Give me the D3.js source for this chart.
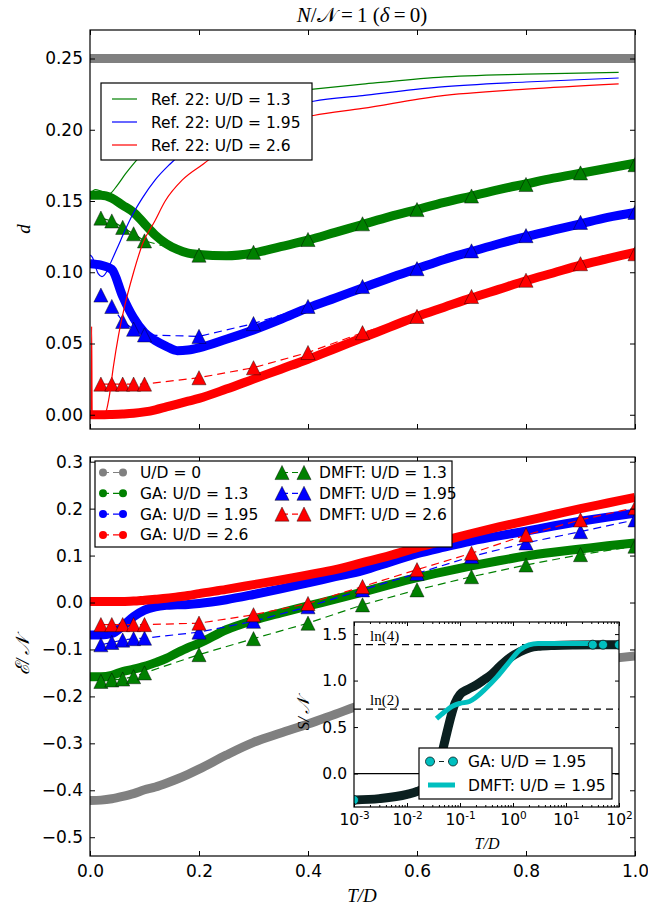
<!DOCTYPE html>
<html>
<head>
<meta charset="utf-8">
<title>N/N=1 (delta=0)</title>
<script src="https://d3js.org/d3.v7.min.js"></script>
<style>
body { margin: 0; background: #fff; }
svg text { font-family: "DejaVu Sans", sans-serif; }
svg text.math { font-family: "Liberation Serif", "DejaVu Serif", serif; font-style: italic; }
svg text.serif { font-family: "Liberation Serif", "DejaVu Serif", serif; }
</style>
</head>
<body>
<svg id="fig" width="648" height="911"></svg>
<script>
// ---------------- data ----------------
// GA curves (dense markers -> thick bands), T/D grid
var tGA = [0,0.02,0.04,0.06,0.08,0.1,0.12,0.14,0.16,0.18,0.2,0.25,0.3,0.35,0.4,0.45,0.5,0.55,0.6,0.65,0.7,0.75,0.8,0.85,0.9,0.95,1.0];

// top panel: d
var dGA0   = [0.25,0.25,0.25,0.25,0.25,0.25,0.25,0.25,0.25,0.25,0.25,0.25,0.25,0.25,0.25,0.25,0.25,0.25,0.25,0.25,0.25,0.25,0.25,0.25,0.25,0.25,0.25];
var dGA13  = [0.154,0.154,0.152,0.147,0.142,0.134,0.126,0.120,0.116,0.1135,0.1125,0.1115,0.1135,0.118,0.1225,0.128,0.1335,0.139,0.144,0.149,0.1535,0.158,0.162,0.166,0.1695,0.173,0.1765];
var dGA195 = [0.106,0.105,0.102,0.083,0.068,0.0576,0.052,0.048,0.045,0.0455,0.047,0.053,0.0595,0.067,0.075,0.082,0.089,0.096,0.1025,0.109,0.1145,0.12,0.125,0.1295,0.134,0.1385,0.142];
var dGA26  = [0.0,0.0,0.0002,0.0005,0.001,0.002,0.0035,0.0055,0.0075,0.0095,0.0115,0.018,0.025,0.032,0.039,0.0465,0.054,0.0615,0.069,0.0755,0.082,0.088,0.094,0.0995,0.105,0.1095,0.114];

// DMFT points
var tDmft = [0.02,0.04,0.06,0.08,0.1,0.2,0.3,0.4,0.5,0.6,0.7,0.8,0.9,1.0];
var dDmft13  = [0.138,0.136,0.1315,0.127,0.122,0.112,0.114,0.123,0.134,0.144,0.1535,0.1616,0.1697,0.1755];
var dDmft195 = [0.084,0.076,0.0655,0.060,0.056,0.055,0.064,0.076,0.090,0.1025,0.115,0.1257,0.135,0.142];
var dDmft26  = [0.0215,0.0215,0.0215,0.0215,0.0215,0.026,0.033,0.0437,0.0576,0.069,0.083,0.0944,0.106,0.113];

// Ref. 22 thin lines
var tRef13 = [0,0.01,0.02,0.035,0.05,0.065,0.084,0.1,0.125,0.15,0.2,0.25,0.3,0.35,0.41,0.5,0.64,0.8,0.97];
var dRef13 = [0.155,0.158,0.157,0.155,0.161,0.169,0.178,0.185,0.195,0.203,0.213,0.219,0.223,0.226,0.2285,0.232,0.2368,0.239,0.2403];
var tRef195 = [0.0,0.005,0.01,0.015,0.022,0.03,0.036,0.05,0.065,0.079,0.096,0.12,0.147,0.2,0.25,0.3,0.35,0.41,0.5,0.64,0.8,0.97];
var dRef195 = [0.112,0.11,0.104,0.099,0.097,0.1,0.105,0.117,0.13,0.141,0.152,0.165,0.176,0.193,0.203,0.210,0.215,0.220,0.224,0.2299,0.2335,0.2363];
var tRef26 = [0.002,0.003,0.004,0.008,0.02,0.028,0.035,0.043,0.052,0.062,0.08,0.0965,0.119,0.138,0.17,0.208,0.25,0.3,0.35,0.41,0.5,0.64,0.8,0.97];
var dRef26 = [0.0,0.062,0.0,0.0,0.0,0.001,0.012,0.034,0.055,0.0736,0.1,0.12,0.136,0.15,0.165,0.176,0.188,0.198,0.205,0.210,0.215,0.2236,0.2285,0.2322];

// bottom panel: E/N
var eGA0   = [-0.422,-0.421,-0.418,-0.413,-0.407,-0.399,-0.393,-0.385,-0.376,-0.366,-0.355,-0.325,-0.298,-0.278,-0.259,-0.238,-0.217,-0.2,-0.185,-0.172,-0.16,-0.15,-0.142,-0.134,-0.127,-0.12,-0.114];
var eGA13  = [-0.158,-0.158,-0.155,-0.147,-0.142,-0.136,-0.128,-0.119,-0.107,-0.096,-0.087,-0.058,-0.038,-0.022,-0.007,0.007,0.022,0.038,0.053,0.066,0.078,0.089,0.099,0.107,0.114,0.121,0.127];
var eGA195 = [-0.069,-0.069,-0.066,-0.05,-0.03,-0.016,-0.009,-0.006,-0.005,-0.004,-0.002,0.006,0.017,0.029,0.042,0.055,0.068,0.086,0.104,0.118,0.131,0.142,0.152,0.163,0.173,0.182,0.19];
var eGA26  = [0.002,0.002,0.002,0.002,0.003,0.005,0.007,0.009,0.012,0.015,0.019,0.028,0.038,0.048,0.059,0.07,0.085,0.1,0.117,0.132,0.147,0.161,0.174,0.187,0.2,0.212,0.224];
var eDmft13  = [-0.168,-0.165,-0.163,-0.158,-0.15,-0.111,-0.077,-0.044,-0.005,0.027,0.055,0.08,0.102,0.12];
var eDmft195 = [-0.09,-0.085,-0.08,-0.077,-0.076,-0.063,-0.04,-0.009,0.027,0.062,0.098,0.127,0.151,0.176];
var eDmft26  = [-0.047,-0.047,-0.047,-0.047,-0.047,-0.044,-0.026,-0.002,0.034,0.07,0.105,0.144,0.176,0.202];

// inset: S/N vs T/D (log)
var tSGA = [0.001,0.003,0.01,0.016,0.023,0.032,0.042,0.056,0.071,0.081,0.1,0.135,0.2,0.27,0.4,0.56,0.8,1.35,2.1,3.2,6,15,40,100];
var sGA  = [-0.285,-0.27,-0.225,-0.19,-0.14,-0.04,0.14,0.43,0.66,0.76,0.85,0.9,0.95,1.0,1.07,1.15,1.23,1.31,1.355,1.37,1.378,1.383,1.385,1.386];
var tSGAmk = [0.001,32,50,100];
var sGAmk  = [-0.285,1.386,1.386,1.386];
var tSDmft = [0.036,0.05,0.075,0.1,0.15,0.2,0.3,0.5,0.8,1.35,2,3,5,10,20,32];
var sDmft  = [0.59,0.66,0.73,0.755,0.775,0.82,0.91,1.04,1.18,1.33,1.385,1.4,1.4,1.4,1.4,1.4];
var lnLevels = [1.3863, 0.6931];
var lnLabels = ["ln(4)", "ln(2)"];

// ticks
var xTicks = [0,0.2,0.4,0.6,0.8,1.0];
var dTicks = [0,0.05,0.1,0.15,0.2,0.25];
var eTicks = [-0.5,-0.4,-0.3,-0.2,-0.1,0,0.1,0.2,0.3];
var sTicks = [0,0.5,1.0,1.5];
var insetDecades = [1e-3,1e-2,1e-1,1e0,1e1,1e2];

var GREEN = "#008000", BLUE = "#0000ff", RED = "#ff0000", GRAY = "#808080", CYAN = "#00bfbf";

// ---------------- drawing ----------------
var svg = d3.select("#fig");

var x = d3.scaleLinear().domain([0, 1]).range([90, 635]);
var yTop = d3.scaleLinear().domain([-0.01, 0.27]).range([429, 30]);
var yBot = d3.scaleLinear().domain([-0.54, 0.31]).range([856, 457]);
var xs = d3.scaleLog().domain([1e-3, 1e2]).range([354, 619]);
var ys = d3.scaleLinear().domain([-0.36, 1.63]).range([807, 622]);

var defs = svg.append("defs");
function clip(id, xsc, ysc) {
  defs.append("clipPath").attr("id", id).append("rect")
    .attr("x", xsc.range()[0]).attr("y", ysc.range()[1])
    .attr("width", xsc.range()[1] - xsc.range()[0])
    .attr("height", ysc.range()[0] - ysc.range()[1]);
}
clip("cTop", x, yTop);
clip("cBot", x, yBot);
clip("cIn", xs, ys);

// matplotlib-like '^' marker, centred on its bounding box
var triType = { draw: function(ctx, size) {
  var h = Math.sqrt(size);
  ctx.moveTo(0, -h / 2); ctx.lineTo(h / 2, h / 2); ctx.lineTo(-h / 2, h / 2); ctx.closePath();
}};
var tri = d3.symbol().type(triType).size(200);

function zip(a, b) { return a.map(function(v, i) { return [v, b[i]]; }); }

function band(g, xsc, ysc, tt, vv, color, w) {
  g.append("path").datum(zip(tt, vv))
    .attr("fill", "none").attr("stroke", color).attr("stroke-width", w)
    .attr("d", d3.line().x(function(d) { return xsc(d[0]); }).y(function(d) { return ysc(d[1]); }).curve(d3.curveMonotoneX));
}

function dmft(g, ysc, vv, color) {
  var pts = zip(tDmft, vv);
  g.append("path").datum(pts)
    .attr("fill", "none").attr("stroke", color).attr("stroke-width", 1.2)
    .attr("stroke-dasharray", "8,5")
    .attr("d", d3.line().x(function(d) { return x(d[0]); }).y(function(d) { return ysc(d[1]); }));
  g.selectAll(null).data(pts).enter().append("path")
    .attr("transform", function(d) { return "translate(" + x(d[0]) + "," + ysc(d[1]) + ")"; })
    .attr("d", tri).attr("fill", color).attr("stroke", "#000").attr("stroke-opacity", 0.6).attr("stroke-width", 0.7);
}

function axes(xsc, ysc, o) {
  var g = svg.append("g");
  var xr = xsc.range(), yr = ysc.range();
  function style(sel, fs) {
    sel.select(".domain").remove();
    sel.selectAll("text").attr("font-size", fs);
    sel.selectAll("line").attr("stroke-width", 1);
  }
  g.append("g").attr("class", "xb").attr("transform", "translate(0," + yr[0] + ")")
    .call(d3.axisBottom(xsc).tickValues(o.xt).tickSize(-o.len).tickPadding(o.xpad || 8).tickFormat(o.xf || ""))
    .call(style, o.fs);
  g.append("g").attr("transform", "translate(0," + yr[1] + ")")
    .call(d3.axisTop(xsc).tickValues(o.xt).tickSize(-o.len).tickFormat(""))
    .call(style, o.fs);
  g.append("g").attr("transform", "translate(" + xr[0] + ",0)")
    .call(d3.axisLeft(ysc).tickValues(o.yt).tickSize(-o.len).tickPadding(o.ypad || 7).tickFormat(o.yf))
    .call(style, o.fs);
  g.append("g").attr("transform", "translate(" + xr[1] + ",0)")
    .call(d3.axisRight(ysc).tickValues(o.yt).tickSize(-o.len).tickFormat(""))
    .call(style, o.fs);
  if (o.xminor) {
    g.append("g").attr("transform", "translate(0," + yr[0] + ")")
      .call(d3.axisBottom(xsc).tickValues(o.xminor).tickSize(-2).tickFormat("")).call(style, o.fs);
    g.append("g").attr("transform", "translate(0," + yr[1] + ")")
      .call(d3.axisTop(xsc).tickValues(o.xminor).tickSize(-2).tickFormat("")).call(style, o.fs);
  }
  g.append("rect").attr("x", xr[0]).attr("y", yr[1])
    .attr("width", xr[1] - xr[0]).attr("height", yr[0] - yr[1])
    .attr("fill", "none").attr("stroke", "#000").attr("stroke-width", 1.2);
  return g;
}

// ---- top panel ----
var gT = svg.append("g").attr("clip-path", "url(#cTop)");
band(gT, x, yTop, tGA, dGA0, GRAY, 9);
band(gT, x, yTop, tGA, dGA13, GREEN, 9);
band(gT, x, yTop, tGA, dGA195, BLUE, 9);
band(gT, x, yTop, tGA, dGA26, RED, 9);
dmft(gT, yTop, dDmft13, GREEN);
dmft(gT, yTop, dDmft195, BLUE);
dmft(gT, yTop, dDmft26, RED);
band(gT, x, yTop, tRef13, dRef13, GREEN, 1.2);
band(gT, x, yTop, tRef195, dRef195, BLUE, 1.2);
band(gT, x, yTop, tRef26, dRef26, RED, 1.2);

axes(x, yTop, { xt: xTicks, yt: dTicks, len: 5, fs: 17, yf: d3.format(".2f") });

// top legend
var legT = svg.append("g");
legT.append("rect").attr("x", 101).attr("y", 83).attr("width", 211).attr("height", 77)
  .attr("fill", "#fff").attr("stroke", "#000").attr("stroke-width", 1.2);
[["Ref. 22: U/D = 1.3", GREEN], ["Ref. 22: U/D = 1.95", BLUE], ["Ref. 22: U/D = 2.6", RED]].forEach(function(e, i) {
  var yy = 99 + i * 23;
  legT.append("line").attr("x1", 112).attr("x2", 137).attr("y1", yy).attr("y2", yy)
    .attr("stroke", e[1]).attr("stroke-width", 1.2);
  legT.append("text").attr("x", 151).attr("y", yy).attr("dy", "0.36em")
    .attr("font-size", 15.5).text(e[0]);
});

// ---- bottom panel ----
var gB = svg.append("g").attr("clip-path", "url(#cBot)");
band(gB, x, yBot, tGA, eGA0, GRAY, 9);
band(gB, x, yBot, tGA, eGA13, GREEN, 9);
band(gB, x, yBot, tGA, eGA195, BLUE, 9);
band(gB, x, yBot, tGA, eGA26, RED, 9);
dmft(gB, yBot, eDmft13, GREEN);
dmft(gB, yBot, eDmft195, BLUE);
dmft(gB, yBot, eDmft26, RED);

axes(x, yBot, { xt: xTicks, yt: eTicks, len: 5, fs: 17, xf: d3.format(".1f"), yf: d3.format(".1f"), xpad: 9 });

// bottom legend
var legB = svg.append("g");
legB.append("rect").attr("x", 95).attr("y", 461).attr("width", 357).attr("height", 86)
  .attr("fill", "#fff").attr("stroke", "#000").attr("stroke-width", 1.2);
var gaEntries = [["U/D = 0", GRAY], ["GA: U/D = 1.3", GREEN], ["GA: U/D = 1.95", BLUE], ["GA: U/D = 2.6", RED]];
var dmEntries = [["DMFT: U/D = 1.3", GREEN], ["DMFT: U/D = 1.95", BLUE], ["DMFT: U/D = 2.6", RED]];
gaEntries.forEach(function(e, i) {
  var yy = 472.5 + i * 20.8;
  legB.append("line").attr("x1", 103).attr("x2", 123).attr("y1", yy).attr("y2", yy)
    .attr("stroke", e[1]).attr("stroke-width", 1.2).attr("stroke-dasharray", "6,4");
  [103, 123].forEach(function(cx) {
    legB.append("circle").attr("cx", cx).attr("cy", yy).attr("r", 4).attr("fill", e[1]);
  });
  legB.append("text").attr("x", 140).attr("y", yy).attr("dy", "0.36em").attr("font-size", 15.5).text(e[0]);
});
dmEntries.forEach(function(e, i) {
  var yy = 472.5 + i * 20.8;
  legB.append("line").attr("x1", 282).attr("x2", 304).attr("y1", yy).attr("y2", yy)
    .attr("stroke", e[1]).attr("stroke-width", 1.2).attr("stroke-dasharray", "6,4");
  [282, 304].forEach(function(cx) {
    legB.append("path").attr("transform", "translate(" + cx + "," + yy + ")").attr("d", tri)
      .attr("fill", e[1]).attr("stroke", "#000").attr("stroke-opacity", 0.6).attr("stroke-width", 0.7);
  });
  legB.append("text").attr("x", 319).attr("y", yy).attr("dy", "0.36em").attr("font-size", 15.5).text(e[0]);
});

// ---- inset ----
svg.append("rect").attr("x", 354).attr("y", 622).attr("width", 265).attr("height", 185).attr("fill", "#fff");
var gI = svg.append("g").attr("clip-path", "url(#cIn)");
gI.append("line").attr("x1", 354).attr("x2", 619).attr("y1", ys(0)).attr("y2", ys(0))
  .attr("stroke", "#000").attr("stroke-width", 1.2);
lnLevels.forEach(function(v) {
  gI.append("line").attr("x1", 354).attr("x2", 619).attr("y1", ys(v)).attr("y2", ys(v))
    .attr("stroke", "#000").attr("stroke-width", 1.3).attr("stroke-dasharray", "7,5");
});
band(gI, xs, ys, tSGA, sGA, "#0b2020", 9);
band(gI, xs, ys, tSDmft, sDmft, CYAN, 5);
gI.selectAll(null).data(zip(tSGAmk, sGAmk)).enter().append("circle")
  .attr("cx", function(d) { return xs(d[0]); }).attr("cy", function(d) { return ys(d[1]); })
  .attr("r", 4.5).attr("fill", CYAN).attr("stroke", "#0b2020").attr("stroke-width", 0.8);
lnLabels.forEach(function(s, i) {
  svg.append("text").attr("class", "serif").attr("x", 370).attr("y", ys(lnLevels[i]) - 4)
    .attr("font-size", 15).text(s);
});

var minors = [];
insetDecades.slice(0, -1).forEach(function(dd) { [2,3,4,5,6,7,8,9].forEach(function(m) { minors.push(dd * m); }); });
var axI = axes(xs, ys, { xt: insetDecades, yt: sTicks, len: 4, fs: 15.5, xf: function(d) { return d; }, yf: d3.format(".1f"), xpad: 7, xminor: minors });
axI.select(".xb").selectAll(".tick text")
  .each(function(d) {
    var t = d3.select(this);
    t.text(null);
    t.append("tspan").text("10");
    t.append("tspan").attr("dy", "-0.55em").attr("font-size", 10.5).text(String(Math.round(Math.log10(d))));
  });

// inset legend
var legI = svg.append("g");
legI.append("rect").attr("x", 419).attr("y", 748).attr("width", 193).attr("height", 51)
  .attr("fill", "#fff").attr("stroke", "#000").attr("stroke-width", 1.2);
legI.append("line").attr("x1", 430).attr("x2", 453).attr("y1", 761.5).attr("y2", 761.5)
  .attr("stroke", "#0b2020").attr("stroke-width", 1.2).attr("stroke-dasharray", "5,4");
[430, 453].forEach(function(cx) {
  legI.append("circle").attr("cx", cx).attr("cy", 761.5).attr("r", 4.5).attr("fill", CYAN)
    .attr("stroke", "#0b2020").attr("stroke-width", 0.8);
});
legI.append("text").attr("x", 468).attr("y", 761.5).attr("dy", "0.36em").attr("font-size", 15.5).text("GA: U/D = 1.95");
legI.append("line").attr("x1", 428).attr("x2", 455).attr("y1", 785).attr("y2", 785)
  .attr("stroke", CYAN).attr("stroke-width", 5);
legI.append("text").attr("x", 468).attr("y", 785).attr("dy", "0.36em").attr("font-size", 15.5).text("DMFT: U/D = 1.95");

// ---- titles and labels ----
var title = svg.append("text").attr("class", "serif").attr("x", 362).attr("y", 22).attr("text-anchor", "middle")
  .attr("font-size", 21);
title.append("tspan").attr("font-style", "italic").text("N");
title.append("tspan").text("/");
title.append("tspan").text("\uD835\uDCA9");
title.append("tspan").text("\u2009=\u20091 (");
title.append("tspan").attr("font-style", "italic").text("\u03B4");
title.append("tspan").text("\u2009=\u20090)");

svg.append("text").attr("class", "math").attr("font-size", 19)
  .attr("transform", "translate(30,229) rotate(-90)").attr("text-anchor", "middle").text("d");
svg.append("text").attr("class", "math").attr("font-size", 19)
  .attr("transform", "translate(29,656) rotate(-90)").attr("text-anchor", "middle")
  .text("\u2130/\u2009\uD835\uDCA9");
svg.append("text").attr("class", "math").attr("font-size", 19)
  .attr("x", 362).attr("y", 902).attr("text-anchor", "middle").text("T/D");
svg.append("text").attr("class", "math").attr("font-size", 17)
  .attr("transform", "translate(309,714) rotate(-90)").attr("text-anchor", "middle").text("S/\u2009\uD835\uDCA9");
svg.append("text").attr("class", "math").attr("font-size", 16)
  .attr("x", 487).attr("y", 849).attr("text-anchor", "middle").text("T/D");
</script>
</body>
</html>
